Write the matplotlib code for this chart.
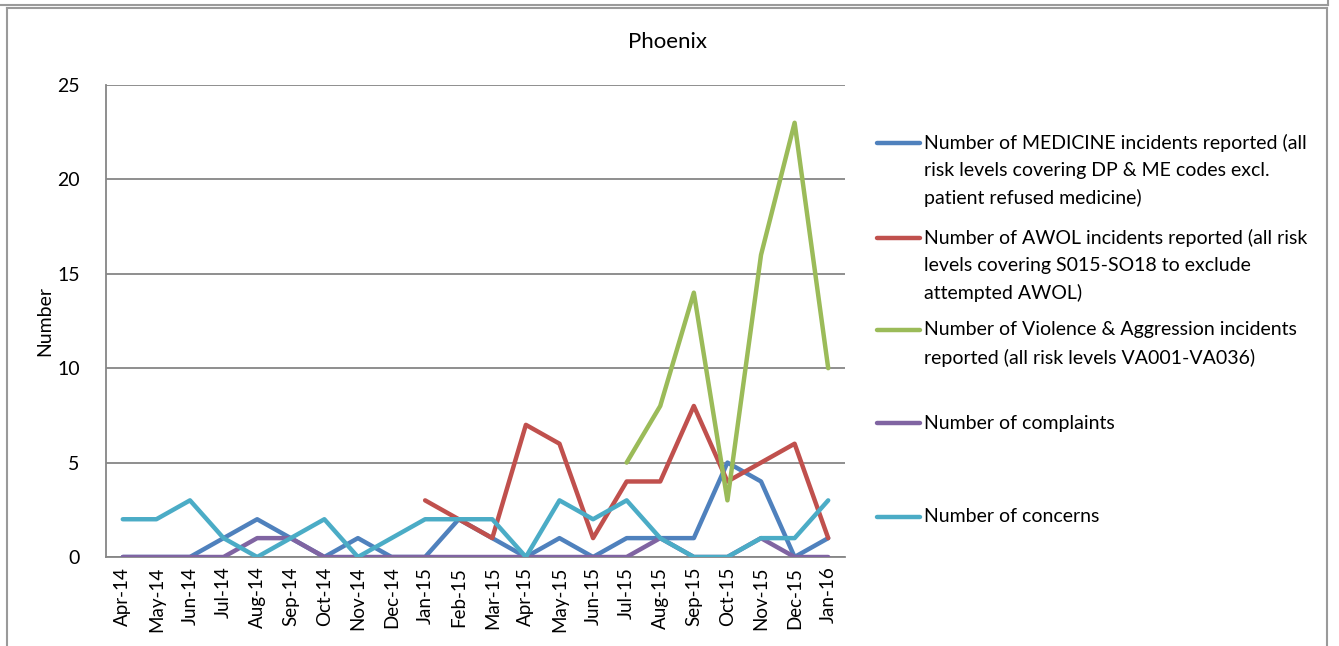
import numpy as np
import matplotlib
matplotlib.use("Agg")
import matplotlib.pyplot as plt
from matplotlib.lines import Line2D

plt.rcParams['font.family'] = ['Lato', 'DejaVu Sans']

months = ["Apr-14", "May-14", "Jun-14", "Jul-14", "Aug-14", "Sep-14", "Oct-14", "Nov-14",
          "Dec-14", "Jan-15", "Feb-15", "Mar-15", "Apr-15", "May-15", "Jun-15", "Jul-15",
          "Aug-15", "Sep-15", "Oct-15", "Nov-15", "Dec-15", "Jan-16"]
nan = np.nan
medicine = [0, 0, 0, 1, 2, 1, 0, 1, 0, 0, 2, 1, 0, 1, 0, 1, 1, 1, 5, 4, 0, 1]
awol = [nan, nan, nan, nan, nan, nan, nan, nan, nan, 3, 2, 1, 7, 6, 1, 4, 4, 8, 4, 5, 6, 1]
violence = [nan] * 15 + [5, 8, 14, 3, 16, 23, 10]
complaints = [0, 0, 0, 0, 1, 1, 0, 0, 0, 0, 0, 0, 0, 0, 0, 0, 1, 0, 0, 1, 0, 0]
concerns = [2, 2, 3, 1, 0, 1, 2, 0, 1, 2, 2, 2, 0, 3, 2, 3, 1, 0, 0, 1, 1, 3]

legend_labels = [
    ["Number of MEDICINE incidents reported (all",
     "risk levels covering DP & ME codes excl.",
     "patient refused medicine)"],
    ["Number of AWOL incidents reported (all risk",
     "levels covering S015-SO18 to exclude",
     "attempted AWOL)"],
    ["Number of Violence & Aggression incidents",
     "reported (all risk levels VA001-VA036)"],
    ["Number of complaints"],
    ["Number of concerns"],
]
colors = ["#4F81BD", "#C0504D", "#9BBB59", "#8064A2", "#4BACC6"]
series = [medicine, awol, violence, complaints, concerns]

W, H = 1339, 646
fig = plt.figure(figsize=(W / 100, H / 100), dpi=100)

def fx(px):
    return px / W

def fy(py):
    return 1 - py / H

ax = fig.add_axes([fx(106), fy(557), fx(845) - fx(106), fy(85) - fy(557)])
x = np.arange(len(months))
for s, c in zip(series, colors):
    ax.plot(x, s, color=c, lw=3.2, solid_capstyle='round', solid_joinstyle='round', zorder=3)

ax.set_xlim(-0.5, len(months) - 0.5)
ax.set_ylim(0, 25)
ax.set_yticks(range(0, 26, 5))
ax.set_xticks(x)
ax.set_xticklabels(months, rotation=90, fontsize=13.5)
ax.tick_params(axis='x', length=0, pad=7)
ax.tick_params(axis='y', length=0, pad=19, labelsize=14)
ax.grid(axis='y', color='#868686', lw=1.3, zorder=1)
for side in ['top', 'right']:
    ax.spines[side].set_visible(False)
for side in ['left', 'bottom']:
    ax.spines[side].set_color('#868686')
    ax.spines[side].set_linewidth(1.3)
ax.set_ylabel("Number", fontsize=14, labelpad=3)

fig.text(0.4985, fy(42), "Phoenix", ha='center', va='center', fontsize=16)

# legend drawn manually
entry_tops = [143, 238, 330, 423, 517]
line_step = 27.5
for labels, c, top in zip(legend_labels, colors, entry_tops):
    fig.add_artist(Line2D([fx(877), fx(920)], [fy(top), fy(top)], color=c, lw=3.2,
                          solid_capstyle='round'))
    for i, t in enumerate(labels):
        fig.text(fx(924), fy(top + i * line_step), t, ha='left', va='center', fontsize=14)

# page frame lines
frame_c = '#9a9a9a'
fig.add_artist(Line2D([0, fx(1328)], [fy(5), fy(5)], color=frame_c, lw=1.5))
fig.add_artist(Line2D([fx(1328), fx(1328)], [fy(5), 1], color=frame_c, lw=1.5))
fig.add_artist(Line2D([fx(7), fx(1327)], [fy(8), fy(8)], color=frame_c, lw=1.5))
fig.add_artist(Line2D([fx(7), fx(7)], [fy(8), 0], color=frame_c, lw=1.5))
fig.add_artist(Line2D([fx(1327), fx(1327)], [fy(8), 0], color=frame_c, lw=1.5))

fig.savefig("out.png", dpi=100)
